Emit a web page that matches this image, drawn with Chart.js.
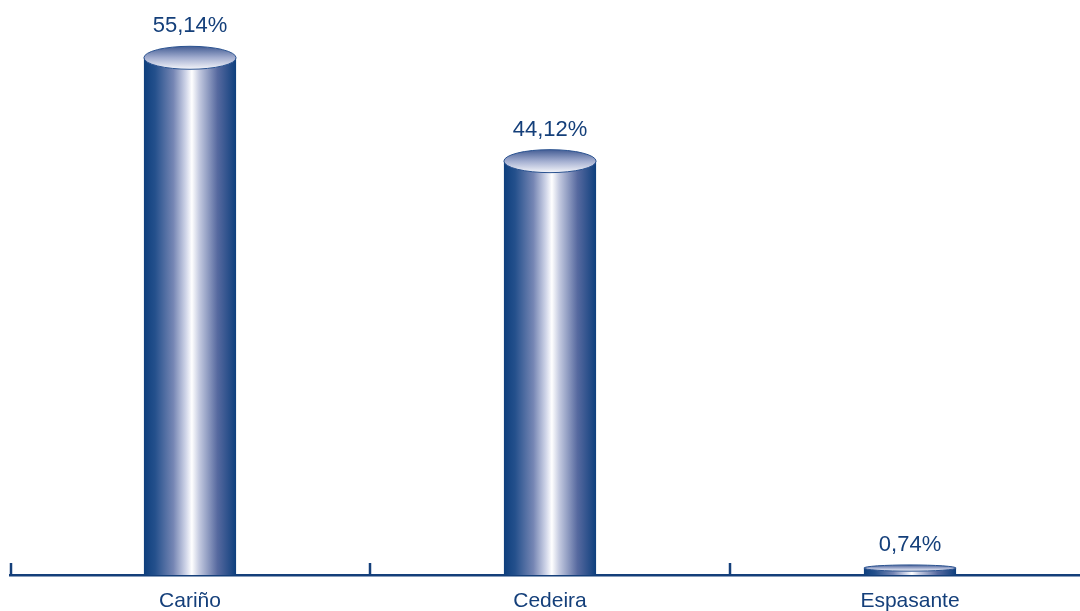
<!DOCTYPE html>
<html>
<head>
<meta charset="utf-8">
<script src="https://cdn.jsdelivr.net/npm/chart.js@4"></script>
<style>
  html, body { margin: 0; padding: 0; background: #fff; overflow: hidden; }
  #wrap { width: 1100px; height: 611px; }
</style>
</head>
<body>
<div id="wrap"><canvas id="towns" width="1100" height="611"></canvas></div>
<script>
// shares by town
const towns = ['Cariño', 'Cedeira', 'Espasante'];
const shares = [55.14, 44.12, 0.74];

const navy = '#143f7a';

function barFill(context) {
  const chart = context.chart;
  const xs = chart.scales.x;
  if (!chart.chartArea || !xs) return navy;
  const cx = xs.getPixelForValue(context.dataIndex);
  const half = 46;
  const g = chart.ctx.createLinearGradient(cx - half, 0, cx + half, 0);
  g.addColorStop(0, '#0e3f7d');
  g.addColorStop(0.12, '#24508c');
  g.addColorStop(0.32, '#7686b4');
  g.addColorStop(0.46, '#d3d8ea');
  g.addColorStop(0.52, '#ffffff');
  g.addColorStop(0.6, '#c4cae0');
  g.addColorStop(0.8, '#56699f');
  g.addColorStop(1, '#0e3f7d');
  return g;
}

// cylinder caps, boundary ticks and value labels
const cylinder = {
  id: 'cylinder',
  afterDatasetsDraw(chart) {
    const ctx = chart.ctx;
    const meta = chart.getDatasetMeta(0);
    const xs = chart.scales.x;
    const bottom = chart.chartArea.bottom;
    ctx.save();
    meta.data.forEach((bar, i) => {
      const h = bottom - bar.y;
      const rx = bar.width / 2;
      const ry = Math.min(11.5, h * 0.45);
      const g = ctx.createLinearGradient(0, bar.y - ry, 0, bar.y + ry);
      g.addColorStop(0, '#445d94');
      g.addColorStop(0.5, '#a3aed0');
      g.addColorStop(1, '#f4f5fa');
      ctx.beginPath();
      ctx.ellipse(bar.x, bar.y, rx, ry, 0, 0, Math.PI * 2);
      ctx.fillStyle = g;
      ctx.fill();
      ctx.lineWidth = 1;
      ctx.strokeStyle = '#2a5290';
      ctx.stroke();

      ctx.fillStyle = navy;
      ctx.font = '22px "Liberation Sans", Arial, sans-serif';
      ctx.textAlign = 'center';
      ctx.textBaseline = 'middle';
      const txt = shares[i].toFixed(2).replace('.', ',') + '%';
      ctx.fillText(txt, bar.x, bar.y - ry - 20);
    });

    // boundary ticks on the axis, pointing up
    const step = xs.getPixelForValue(1) - xs.getPixelForValue(0);
    ctx.strokeStyle = navy;
    ctx.lineWidth = 2.5;
    for (let i = 0; i <= towns.length; i++) {
      const x = xs.getPixelForValue(0) - step / 2 + i * step + (i === 0 ? 1 : 0);
      ctx.beginPath();
      ctx.moveTo(x, bottom);
      ctx.lineTo(x, bottom - 12);
      ctx.stroke();
    }
    ctx.restore();
  }
};

new Chart(document.getElementById('towns'), {
  type: 'bar',
  data: {
    labels: towns,
    datasets: [{
      data: shares,
      backgroundColor: barFill,
      borderWidth: 0,
      barPercentage: 0.256,
      categoryPercentage: 1
    }]
  },
  options: {
    responsive: false,
    animation: false,
    layout: { padding: { left: 10, right: 10, top: 0, bottom: 0 } },
    plugins: {
      legend: { display: false },
      tooltip: { enabled: false }
    },
    scales: {
      x: {
        offset: true,
        grid: { display: false },
        border: { display: true, color: navy, width: 2.5 },
        ticks: {
          color: navy,
          padding: 6,
          font: { family: '"Liberation Sans", Arial, sans-serif', size: 21 }
        },
        afterFit(scale) { scale.height = 36; }
      },
      y: {
        display: false,
        min: 0,
        max: 61.3
      }
    }
  },
  plugins: [cylinder]
});
</script>
</body>
</html>
